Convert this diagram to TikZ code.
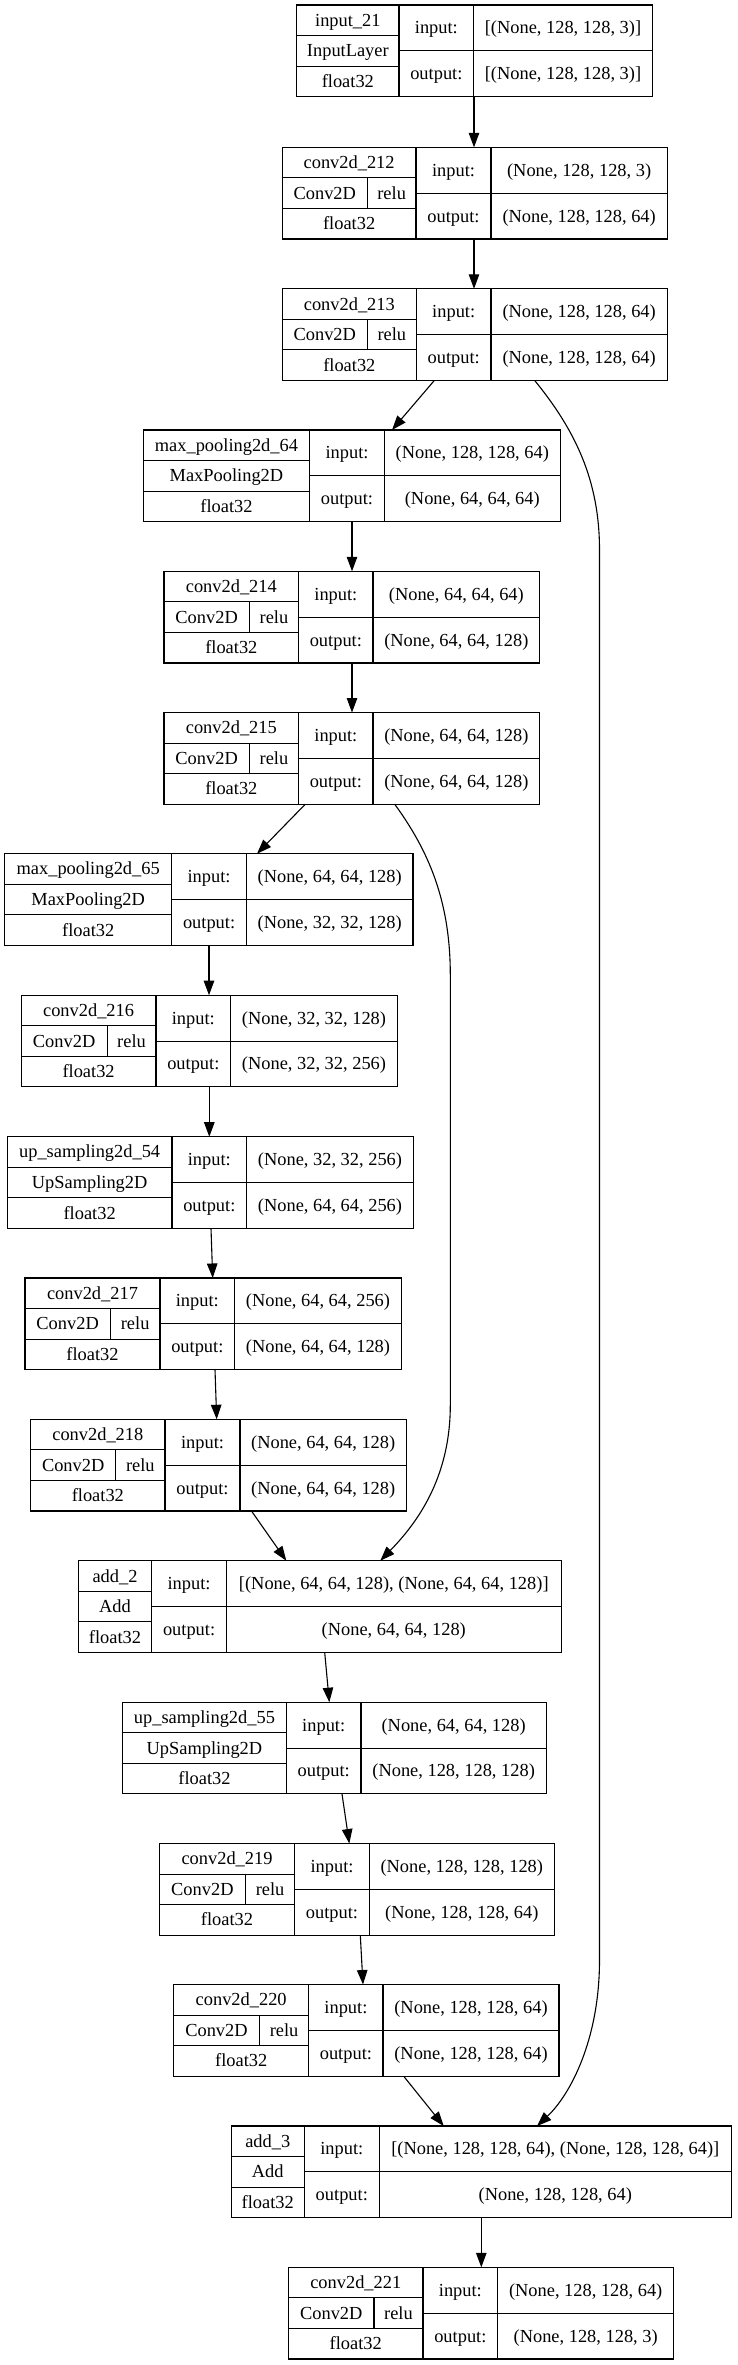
\documentclass[tikz,border=0pt]{standalone}
\usepackage{fontspec}
\setmainfont{Liberation Serif}
\usepackage{tikz}
\usetikzlibrary{arrows.meta,calc,fit,positioning}
\tikzset{%
	cell/.style  = {draw, rectangle, anchor=north west, inner sep=0pt, outer sep=0pt, text height=14pt, text depth=2pt},
	layer/.style = {rectangle, inner sep=0pt, outer sep=0pt}, % whole record
	link/.style  = {-{Triangle[length=14.5pt,width=10.5pt]}},
}

\begin{document}
\begin{tikzpicture}[x=1pt,y=-1pt,line width=1.1pt,font=\fontsize{18.4}{22}\selectfont]
	\useasboundingbox (0,0) rectangle (737,2365);

	% name / left / relu split / input col / value col / right / top / texts
	\foreach \id/\x/\xa/\xb/\xc/\xd/\y/\lname/\lkind/\lact/\vin/\vout in {
		b1/296.7/0/399/473.7/652.3/5/input\_21/InputLayer//{[(None, 128, 128, 3)]}/{[(None, 128, 128, 3)]},
		b2/282.3/367.3/416/491/667.3/147.3/conv2d\_212/Conv2D/relu/{(None, 128, 128, 3)}/{(None, 128, 128, 64)},
		b3/282.3/367.3/416.4/491/667.3/288.8/conv2d\_213/Conv2D/relu/{(None, 128, 128, 64)}/{(None, 128, 128, 64)},
		b4/143.2/0/309.7/384.3/560.3/430/max\_pooling2d\_64/MaxPooling2D//{(None, 128, 128, 64)}/{(None, 64, 64, 64)},
		b5/164/249.3/298.7/373/539.7/571.3/conv2d\_214/Conv2D/relu/{(None, 64, 64, 64)}/{(None, 64, 64, 128)},
		b6/164/249.3/298.7/373/539.7/712.5/conv2d\_215/Conv2D/relu/{(None, 64, 64, 128)}/{(None, 64, 64, 128)},
		b7/4.6/0/171.8/246.4/413/853.7/max\_pooling2d\_65/MaxPooling2D//{(None, 64, 64, 128)}/{(None, 32, 32, 128)},
		b8/21.2/107.1/156/230.7/397.3/995.2/conv2d\_216/Conv2D/relu/{(None, 32, 32, 128)}/{(None, 32, 32, 256)},
		b9/7.3/0/172/246.7/413.3/1136.7/up\_sampling2d\_54/UpSampling2D//{(None, 32, 32, 256)}/{(None, 64, 64, 256)},
		b10/25/110.3/160/234.7/401.3/1278/conv2d\_217/Conv2D/relu/{(None, 64, 64, 256)}/{(None, 64, 64, 128)},
		b11/30.7/115.7/165/240/406.4/1419.3/conv2d\_218/Conv2D/relu/{(None, 64, 64, 128)}/{(None, 64, 64, 128)},
		b12/78.2/0/151.8/226.4/561.2/1560.7/add\_2/Add//{[(None, 64, 64, 128), (None, 64, 64, 128)]}/{(None, 64, 64, 128)},
		b13/122.5/0/286.4/361/546.3/1702.2/up\_sampling2d\_55/UpSampling2D//{(None, 64, 64, 128)}/{(None, 128, 128, 128)},
		b14/159.4/245.4/294.7/369.3/554.3/1843.5/conv2d\_219/Conv2D/relu/{(None, 128, 128, 128)}/{(None, 128, 128, 64)},
		b15/173.6/259.4/308.8/383/559/1984.5/conv2d\_220/Conv2D/relu/{(None, 128, 128, 64)}/{(None, 128, 128, 64)},
		b16/231.3/0/304.3/379.3/731.3/2126/add\_3/Add//{[(None, 128, 128, 64), (None, 128, 128, 64)]}/{(None, 128, 128, 64)},
		b17/288.6/374/423/497.7/673.7/2267.3/conv2d\_221/Conv2D/relu/{(None, 128, 128, 64)}/{(None, 128, 128, 3)}
	}{
		\pgfmathsetmacro\wl{\xb-\x}
		\pgfmathsetmacro\wm{\xc-\xb}
		\pgfmathsetmacro\wr{\xd-\xc}
		\node[cell, minimum width=\wl, minimum height=30.57] (\id-t) at (\x,\y) {\lname};
		\ifdim\xa pt>0pt
			\pgfmathsetmacro\wk{\xa-\x}
			\pgfmathsetmacro\wa{\xb-\xa}
			\node[cell, minimum width=\wk, minimum height=30.57] (\id-k) at (\x,\y+30.57) {\lkind};
			\node[cell, minimum width=\wa, minimum height=30.57] (\id-a) at (\xa,\y+30.57) {\lact};
		\else
			\node[cell, minimum width=\wl, minimum height=30.57] (\id-k) at (\x,\y+30.57) {\lkind};
		\fi
		\node[cell, minimum width=\wl, minimum height=30.57] (\id-d) at (\x,\y+61.13) {float32};
		\node[cell, minimum width=\wm, minimum height=45.85] (\id-i) at (\xb,\y) {input:};
		\node[cell, minimum width=\wm, minimum height=45.85] (\id-o) at (\xb,\y+45.85) {output:};
		\node[cell, minimum width=\wr, minimum height=45.85] (\id-iv) at (\xc,\y) {\vin};
		\node[cell, minimum width=\wr, minimum height=45.85] (\id-ov) at (\xc,\y+45.85) {\vout};
		\node[layer, fit=(\id-t)(\id-ov)] (\id) {};
	}

	\draw[link] ([xshift=177.3]b1.south west) -- ([xshift=191.7]b2.north west);
	\draw[link] ([xshift=191.7]b2.south west) -- ([xshift=191.7]b3.north west);
	\draw[link] ([xshift=152]b3.south west) -- ([xshift=248.8]b4.north west);
	\draw[link] ([xshift=208.8]b4.south west) -- ([xshift=188]b5.north west);
	\draw[link] ([xshift=188]b5.south west) -- ([xshift=188]b6.north west);
	\draw[link] ([xshift=141.3]b6.south west) -- ([xshift=252.4]b7.north west);
	\draw[link] ([xshift=204.4]b7.south west) -- ([xshift=187.8]b8.north west);
	\draw[link] ([xshift=188.1]b8.south west) -- ([xshift=202]b9.north west);
	\draw[link] ([xshift=203.7]b9.south west) -- ([xshift=187.7]b10.north west);
	\draw[link] ([xshift=190]b10.south west) -- ([xshift=186]b11.north west);
	\draw[link] ([xshift=220.8]b11.south west) -- ([xshift=208.1]b12.north west);
	\draw[link] ([xshift=246.5]b12.south west) -- ([xshift=206.8]b13.north west);
	\draw[link] ([xshift=219.5]b13.south west) -- ([xshift=189.9]b14.north west);
	\draw[link] ([xshift=200.9]b14.south west) -- ([xshift=189.4]b15.north west);
	\draw[link] ([xshift=230.1]b15.south west) -- ([xshift=212.4]b16.north west);
	\draw[link] ([xshift=250]b16.south west) -- ([xshift=192.7]b17.north west);

	% skip connections
	\draw[link] ([xshift=252.4]b3.south west) .. controls (575,430) and (599.5,480) .. (599.5,550)
		-- (599.5,1960) .. controls (599.5,2040) and (570,2095) .. ([xshift=305.7]b16.north west);
	\draw[link] ([xshift=230.7]b6.south west) .. controls (428,850) and (450.3,900) .. (450.3,975)
		-- (450.3,1405) .. controls (450.3,1480) and (415,1525) .. ([xshift=302.1]b12.north west);
\end{tikzpicture}
\end{document}
